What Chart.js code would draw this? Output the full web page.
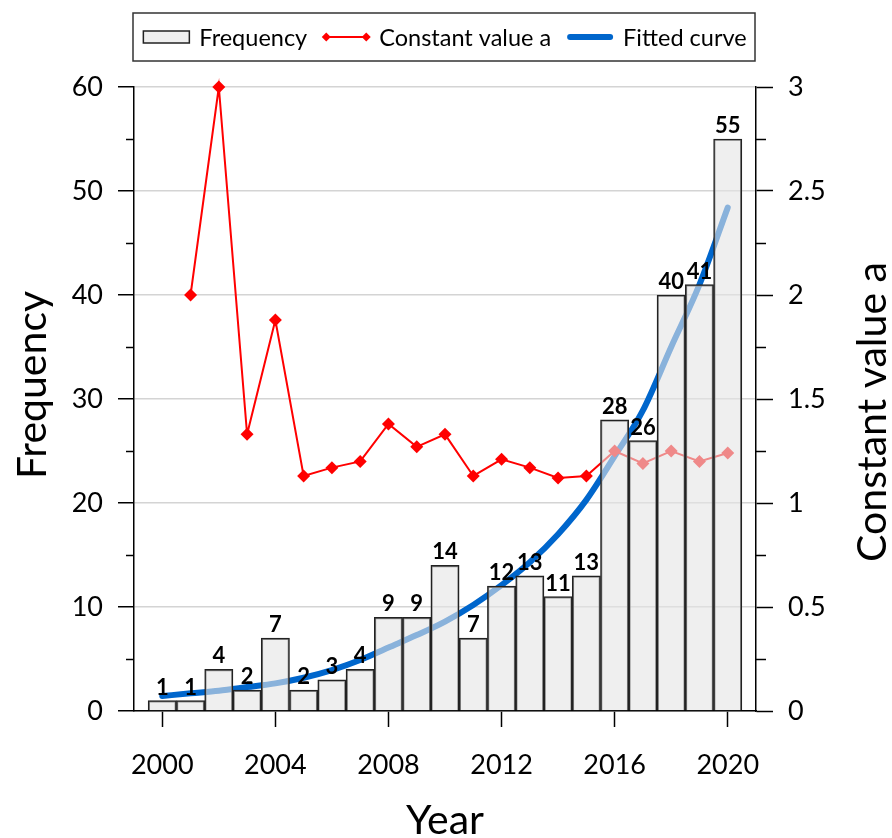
<!DOCTYPE html>
<html>
<head>
<meta charset="utf-8">
<title>Frequency, constant value a and fitted curve by year</title>
<script src="https://cdn.jsdelivr.net/npm/chart.js@4.4.1/dist/chart.umd.min.js"></script>
<style>
  html, body { margin: 0; padding: 0; background: #fff; }
  #wrap { width: 892px; height: 838px; }
</style>
</head>
<body>
<div id="wrap"><canvas id="chart" width="892" height="838"></canvas></div>
<script>
// ---- data ----
const years = [2000, 2001, 2002, 2003, 2004, 2005, 2006, 2007, 2008, 2009, 2010,
               2011, 2012, 2013, 2014, 2015, 2016, 2017, 2018, 2019, 2020];
const frequency = [1, 1, 4, 2, 7, 2, 3, 4, 9, 9, 14, 7, 12, 13, 11, 13, 28, 26, 40, 41, 55];
const constantA = [null, 2.0, 3.0, 1.33, 1.88, 1.13, 1.17, 1.2, 1.38, 1.27, 1.33,
                   1.13, 1.21, 1.17, 1.12, 1.13, 1.25, 1.19, 1.25, 1.2, 1.24];
const fittedCurve = [1.44, 1.7, 1.95, 2.3, 2.66, 3.2, 3.94, 4.9, 6.1, 7.3, 8.6,
                     10.2, 12.1, 14.3, 17.0, 20.3, 24.5, 28.9, 35.0, 41.0, 48.4];
const yearTicks = [2000, 2004, 2008, 2012, 2016, 2020];

const FONT = 'Lato, "Open Sans", sans-serif';
const BAR_FILL = 'rgba(228,228,228,0.6)';
const BAR_EDGE = '#222';
const RED = '#ff0000';
const BLUE = '#0066cc';
const TICK_SIZE = 27;
const TITLE_SIZE = 41;

// legend in a framed box above the plot
const boxedLegend = {
  id: 'boxedLegend',
  afterDraw(chart) {
    const { ctx, chartArea } = chart;
    const ds = chart.data.datasets;
    ctx.save();
    ctx.font = '23.5px ' + FONT;
    const sw = 46, gapText = 10, gapItem = 16, y = 37;
    const widths = ds.map(d => ctx.measureText(d.label).width);
    const total = widths.reduce((a, w) => a + sw + gapText + w, 0) + gapItem * (ds.length - 1);
    let x = (chartArea.left + chartArea.right) / 2 - total / 2;

    ctx.strokeStyle = '#333';
    ctx.lineWidth = 1.5;
    ctx.strokeRect(chartArea.left - 1, 13, chartArea.right - chartArea.left, 48);

    ds.forEach((d, i) => {
      if (d.type === 'bar') {
        ctx.fillStyle = '#efefef';
        ctx.fillRect(x, y - 6, sw, 12);
        ctx.strokeStyle = BAR_EDGE;
        ctx.lineWidth = 1.5;
        ctx.strokeRect(x, y - 6, sw, 12);
      } else if (d.pointStyle === 'rectRot') {
        ctx.strokeStyle = d.borderColor;
        ctx.lineWidth = 2;
        ctx.beginPath(); ctx.moveTo(x + 2, y); ctx.lineTo(x + sw - 2, y); ctx.stroke();
        ctx.fillStyle = d.borderColor;
        [x + 3, x + sw - 3].forEach(cx => {
          ctx.beginPath();
          ctx.moveTo(cx, y - 4.5); ctx.lineTo(cx + 4.5, y);
          ctx.lineTo(cx, y + 4.5); ctx.lineTo(cx - 4.5, y);
          ctx.closePath(); ctx.fill();
        });
      } else {
        ctx.strokeStyle = d.borderColor;
        ctx.lineWidth = 6;
        ctx.lineCap = 'round';
        ctx.beginPath(); ctx.moveTo(x + 3, y); ctx.lineTo(x + sw - 3, y); ctx.stroke();
        ctx.lineCap = 'butt';
      }
      ctx.fillStyle = '#000';
      ctx.textAlign = 'left';
      ctx.textBaseline = 'middle';
      ctx.fillText(d.label, x + sw + gapText, y + 1);
      x += sw + gapText + widths[i] + gapItem;
    });
    ctx.restore();
  }
};

// value labels over bars, minor ticks, rotated axis titles
const extras = {
  id: 'extras',
  afterDatasetsDraw(chart) {
    const ctx = chart.ctx;
    const meta = chart.getDatasetMeta(0);
    ctx.save();
    ctx.font = 'bold 22px ' + FONT;
    ctx.fillStyle = '#000';
    ctx.textAlign = 'center';
    ctx.textBaseline = 'alphabetic';
    meta.data.forEach((el, i) => {
      ctx.fillText(String(frequency[i]), el.x, el.y - 6);
    });
    ctx.restore();
  },
  afterDraw(chart) {
    const { ctx, chartArea, scales } = chart;
    ctx.save();
    ctx.strokeStyle = '#000';
    ctx.lineWidth = 1.5;
    const minor = (scale, x0, x1) => {
      const t = scale.ticks;
      for (let i = 0; i + 1 < t.length; i++) {
        const py = Math.round(scale.getPixelForValue((t[i].value + t[i + 1].value) / 2)) + 0.5;
        ctx.beginPath(); ctx.moveTo(x0, py); ctx.lineTo(x1, py); ctx.stroke();
      }
    };
    minor(scales.y, chartArea.left - 8, chartArea.left);
    minor(scales.y1, chartArea.right, chartArea.right + 10);

    ctx.fillStyle = '#000';
    ctx.font = TITLE_SIZE + 'px ' + FONT;
    ctx.textAlign = 'center';
    ctx.textBaseline = 'middle';
    const mid = (chartArea.top + chartArea.bottom) / 2;
    const rotated = (text, x, y) => {
      ctx.save();
      ctx.translate(x, y);
      ctx.rotate(-Math.PI / 2);
      ctx.fillText(text, 0, 0);
      ctx.restore();
    };
    rotated(scales.y.options.title.text, 33, mid - 14);
    rotated('Constant value a', 873, mid + 13);
    ctx.restore();
  }
};

function build() {
  Chart.defaults.font.family = FONT;
  Chart.defaults.color = '#000';

  new Chart(document.getElementById('chart'), {
    type: 'bar',
    data: {
      datasets: [
        {
          type: 'bar',
          label: 'Frequency',
          data: years.map((yr, i) => ({ x: yr, y: frequency[i] })),
          backgroundColor: BAR_FILL,
          borderColor: BAR_EDGE,
          borderWidth: 1.5,
          barPercentage: 1,
          categoryPercentage: 1,
          grouped: false,
          yAxisID: 'y',
          order: 0
        },
        {
          type: 'line',
          label: 'Constant value a',
          data: years.map((yr, i) => ({ x: yr, y: constantA[i] })),
          borderColor: RED,
          backgroundColor: RED,
          borderWidth: 2,
          pointStyle: 'rectRot',
          pointRadius: 6.5,
          pointBorderWidth: 0,
          pointBackgroundColor: RED,
          tension: 0,
          spanGaps: false,
          clip: false,
          yAxisID: 'y1',
          order: 1
        },
        {
          type: 'line',
          label: 'Fitted curve',
          data: years.map((yr, i) => ({ x: yr, y: fittedCurve[i] })),
          borderColor: BLUE,
          borderWidth: 6,
          borderCapStyle: 'round',
          pointRadius: 0,
          cubicInterpolationMode: 'monotone',
          clip: false,
          yAxisID: 'y',
          order: 2
        }
      ]
    },
    options: {
      responsive: false,
      animation: false,
      devicePixelRatio: 1,
      layout: { padding: { top: 87, left: 0, right: 0, bottom: 0 } },
      plugins: {
        legend: { display: false },
        tooltip: { enabled: false }
      },
      scales: {
        x: {
          type: 'linear',
          min: 1999,
          max: 2021,
          offset: false,
          afterBuildTicks: s => { s.ticks = yearTicks.map(v => ({ value: v })); },
          afterFit: s => { s.height = 127; },
          grid: { display: true, drawOnChartArea: false, offset: false, tickLength: 16, tickColor: '#000', tickWidth: 1.5 },
          border: { display: true, color: '#000', width: 1.5 },
          ticks: { font: { size: TICK_SIZE }, padding: 22, maxRotation: 0, autoSkip: false, callback: v => String(v) },
          title: { display: true, text: 'Year', font: { size: TITLE_SIZE, lineHeight: 0.85 }, padding: { top: 0, bottom: 0 } }
        },
        y: {
          type: 'linear',
          position: 'left',
          min: 0,
          max: 60,
          afterFit: s => { s.width = 134; },
          ticks: { stepSize: 10, font: { size: TICK_SIZE }, padding: 15 },
          grid: { color: '#d4d4d4', lineWidth: 1.5, tickLength: 16, tickColor: '#000', tickWidth: 1.5 },
          border: { display: true, color: '#000', width: 1.5 },
          title: { display: false, text: 'Frequency' }
        },
        y1: {
          type: 'linear',
          position: 'right',
          min: 0,
          max: 3,
          afterFit: s => { s.width = 136; },
          ticks: { stepSize: 0.5, font: { size: TICK_SIZE }, padding: 15, callback: v => String(v) },
          grid: { drawOnChartArea: false, tickLength: 17, tickColor: '#000', tickWidth: 1.5 },
          border: { display: true, color: '#000', width: 1.5 }
        }
      }
    },
    plugins: [boxedLegend, extras]
  });
}

const fontsReady = document.fonts && document.fonts.load
  ? Promise.all(['27px Lato', 'bold 22px Lato', '41px Lato'].map(f => document.fonts.load(f))).catch(() => {})
  : Promise.resolve();
fontsReady.then(build);
</script>
</body>
</html>
